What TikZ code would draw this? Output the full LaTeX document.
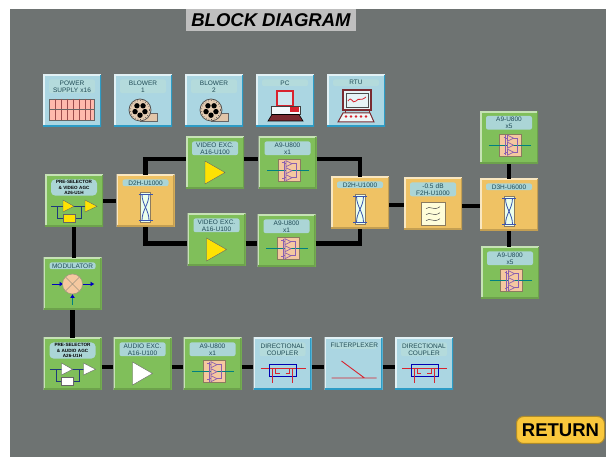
\documentclass[tikz,border=0pt]{standalone}
\usepackage{fontspec}
\setmainfont{Liberation Sans}
\usepackage{tikz}
\usetikzlibrary{arrows.meta}
\definecolor{screen}{HTML}{6E7372}
\definecolor{tagblue}{HTML}{B4DBDC}
\definecolor{tagteal}{HTML}{ABD5D6}
\definecolor{skyfill}{HTML}{ABD6E2}
\definecolor{leaffill}{HTML}{80BF5A}
\definecolor{sandfill}{HTML}{EFC264}
\definecolor{peach}{HTML}{F5C8A0}
\definecolor{tan}{HTML}{8B7B5F}
\definecolor{wire}{HTML}{1F3A7A}
\definecolor{crimson}{HTML}{D8232E}
\definecolor{maroon}{HTML}{7A2A30}
\definecolor{inktext}{HTML}{1F4A55}
\definecolor{gold}{HTML}{F9C73C}
\definecolor{skyedge}{HTML}{2D9CC6}
\definecolor{crossblue}{HTML}{3A55B0}
\definecolor{combviolet}{HTML}{8A5FB0}
\tikzset{bevel/.style 2 args={path picture={
    \draw [line width=3pt,#1] (path picture bounding box.south west) |- (path picture bounding box.north east);
    \draw [line width=3pt,#2] (path picture bounding box.south west) -| (path picture bounding box.north east);
  }}}
\tikzstyle{unit} = [rectangle, minimum width=58pt, minimum height=52pt, inner sep=0pt]
\tikzstyle{sky} = [unit, fill=skyfill, bevel={white!65!skyfill}{skyedge}]
\tikzstyle{leaf} = [unit, fill=leaffill, bevel={white!55!leaffill}{black!15!leaffill}]
\tikzstyle{sand} = [unit, fill=sandfill, bevel={white!60!sandfill}{black!18!sandfill}]
\tikzstyle{tag} = [rectangle, rounded corners=2pt, fill=tagteal, text=inktext, text width=46pt,
    text centered, inner xsep=0pt, inner ysep=1pt, anchor=north, font=\fontsize{6.5}{7}\selectfont]
\tikzstyle{palecap} = [tag, fill=tagblue]
\tikzstyle{tinycap} = [tag, rounded corners=4pt, text=black, font=\bfseries\fontsize{4.6}{5.4}\selectfont]
\tikzstyle{line} = [draw, line width=4.6pt]
\tikzstyle{thin wire} = [draw=wire, line width=0.8pt]
\tikzstyle{flat} = [draw=crimson, line width=0.9pt]
\tikzset{
  combiner/.pic={
    \draw [draw=tan, fill=peach, line width=0.7pt] (-11,-11) rectangle (11,11);
    \draw [draw=teal, line width=0.6pt] (-22,0) -- (20,0);
    \draw [draw=combviolet, line width=0.6pt] (-7,-8) -- (-5,-8) (-5,-10) -- (-5,10) (-5,8) -- (-7,8) (-5,-7) rectangle (7,7);
    \draw [draw=combviolet, fill=peach, line width=0.6pt] (-3,-10) -- (3,-7) -- (-3,-4) -- cycle;
    \draw [draw=combviolet, fill=peach, line width=0.6pt] (-3,-3) -- (3,0) -- (-3,3) -- cycle;
    \draw [draw=combviolet, fill=peach, line width=0.6pt] (-3,4) -- (3,7) -- (-3,10) -- cycle;
  },
  hybrid/.pic={
    \draw [draw=tan, fill=green!8!white, line width=0.8pt] (-5,-15) rectangle (5,15);
    \draw [draw=crossblue, line width=0.8pt] (-7,-13) -- (7,-13) (-7,13) -- (7,13);
    \draw [draw=crossblue, line width=0.8pt] (-3.5,-13) .. controls (-3.5,-3) and (3.5,3) .. (3.5,13);
    \draw [draw=crossblue, line width=0.8pt] (3.5,-13) .. controls (3.5,-3) and (-3.5,3) .. (-3.5,13);
  },
  ripple/.pic={
    \draw [draw=tan, fill=yellow!15!white, line width=0.8pt] (-12,-11.5) rectangle (12,11.5);
    \foreach \y in {-6,0,6} {
      \draw [black!70, line width=0.5pt] (-7,\y+1) .. controls (-3,\y-3) and (0,\y+4) .. (7,\y-1);
    }
  },
  blower/.pic={
    \draw [draw=black!60, fill=brown!45!white, line width=0.5pt] (0,3) rectangle (17,11);
    \draw [draw=black!70, fill=brown!40!white, line width=0.7pt] (0,0) circle (11);
    \draw [black!70, line width=0.6pt, dash pattern=on 0.8pt off 2pt] (0,0) circle (9.6);
    \foreach \a in {90,162,234,306,18} {
      \fill [black] (\a:5.2) circle (2.7);
    }
  },
  gridpanel/.pic={
    \draw [draw=black!60, fill=red!25!white!90!orange, line width=0.7pt] (-22.5,-2) rectangle (22.5,19);
    \foreach \x in {-16.5,-10.5,-4.5,1.5,7.5,13.5,18} {
      \draw [draw=red!45!black!70, line width=0.4pt] (\x,-2) -- (\x,19);
    }
    \draw [draw=black!60, line width=0.7pt] (-22.5,8.5) -- (22.5,8.5);
  },
  pcset/.pic={
    \draw [draw=crimson, fill=skyfill!60!white, line width=1.2pt] (-8,-10) rectangle (8,5);
    \draw [draw=black!75, fill=white!85!skyfill, line width=0.8pt] (-14,5) rectangle (15,13);
    \fill [crimson] (5,6.5) rectangle (14,11);
    \draw [draw=black, fill=maroon, line width=0.6pt] (-13,13.5) -- (14,13.5) -- (18,20) -- (-17,20) -- cycle;
  },
  rtuset/.pic={
    \draw [draw=maroon, fill=white!70!skyfill, line width=1.2pt] (-13,-11) rectangle (15,9);
    \draw [draw=black!70, line width=0.5pt] (-10,-8) rectangle (12,6);
    \draw [draw=crimson, line width=0.8pt] (-8,0) .. controls (-4,-6) and (-4,4) .. (0,0) .. controls (3,-4) and (4,1) .. (10,-4);
    \draw [draw=maroon, line width=0.8pt] (-11,9) -- (-11,12) (13,9) -- (13,12);
    \draw [draw=maroon, fill=white!80!skyfill, line width=1pt] (-13,12) -- (14,12) -- (18,21) -- (-18,21) -- cycle;
    \foreach \x in {-10,-5,0,5,10} {
      \fill [crimson] (\x,15.5) circle (1.4);
    }
  },
  presel/.pic={
    \path [thin wire] (-23,5.3) -- (11,5.3) (-16.5,5.3) -- (-16.5,17) -- (7,17) -- (7,5.3);
    \draw [draw=black!60, pic actions, line width=0.4pt] (-11,-1) -- (0,5.3) -- (-11,11) -- cycle;
    \draw [draw=black!60, pic actions, line width=0.4pt] (11,-1) -- (23,5.3) -- (11,11) -- cycle;
    \draw [draw=black!60, pic actions, line width=0.4pt] (-11,13) rectangle (1,21);
  },
  coupler/.pic={
    \path [flat] (-22,4) -- (23,4);
    \draw [draw=blue!70!black, line width=0.9pt] (-13,0) rectangle (14,12);
    \path [flat] (-10,4) -- (-10,19) (10,4) -- (10,19) (-7,4) -- (-7,9) -- (-3,9) (3,9) -- (7,9) -- (7,4);
  },
  plexer/.pic={
    \path [flat] (-22,14) -- (23,14) (-12,-3) -- (11,14);
  },
  mixer/.pic={
    \draw [draw=blue!75!black, line width=0.8pt, -{Latex[length=4pt,width=5pt]}] (-21,0) -- (-9,0);
    \draw [draw=blue!75!black, line width=0.8pt, -{Latex[length=4pt,width=5pt]}] (10,0) -- (22,0);
    \draw [draw=teal, line width=0.8pt, -{Latex[length=4pt,width=5pt,blue!75!black]}] (0,21) -- (0,10);
    \draw [draw=tan!80, fill=peach, line width=0.5pt] (0,0) circle (10);
    \draw [draw=tan!80, line width=0.5pt] (-7,-7) -- (7,7) (-7,7) -- (7,-7);
  },
}
\newcommand{\captag}[3][tag]{\node [#1] (#2cap) at ([yshift=-4.5pt]#2.north) {#3};}
\begin{document}
\begin{tikzpicture}[x=1pt, y=-1pt, node distance = 71pt]
   % Page and panel
    \useasboundingbox [fill=white] (0,0) rectangle (606,457);
    \fill [screen] (10,9) rectangle (606,457);
    \node [rectangle, fill=black!25, minimum width=170pt, minimum height=22pt, inner sep=0pt,
      font=\bfseries\itshape\fontsize{18.5}{19}\selectfont] (title) at (271,20) {BLOCK DIAGRAM};
   % Top row
    \node [sky] (power) at (72,101) {};
    \node [sky, right of=power] (blowa) {};
    \node [sky, right of=blowa] (blowb) {};
    \node [sky, right of=blowb] (pc) {};
    \node [sky, right of=pc] (rtu) {};
   % Video chain
    \node [leaf] (prev) at (74,201) {};
    \node [sand] (splitv) at (145.5,201) {};
    \node [leaf] (exca) at (215,163) {};
    \node [leaf] (ampa) at (287.5,163) {};
    \node [leaf] (excb) at (216.5,240) {};
    \node [leaf] (ampb) at (286.5,241) {};
    \node [sand] (joinv) at (360,203) {};
    \node [sand] (filt) at (433,204) {};
    \node [sand] (splitr) at (509,205) {};
    \node [leaf] (ampc) at (509,137.5) {};
    \node [leaf] (ampd) at (510,273) {};
    \node [leaf] (modul) at (72.5,284) {};
   % Audio chain
    \node [leaf] (prea) at (72.5,364) {};
    \node [leaf, right of=prea, node distance = 70pt] (exau) {};
    \node [leaf, right of=exau, node distance = 70pt] (ampe) {};
    \node [sky, right of=ampe, node distance = 70pt] (coupa) {};
    \node [sky, right of=coupa] (plex) {};
    \node [sky, right of=plex, node distance = 70.5pt] (coupb) {};
   % Return button
    \node [rectangle, rounded corners=7pt, fill=gold, draw=gold!70!black, line width=1pt,
      minimum width=88pt, minimum height=27pt, inner sep=0pt,
      font=\bfseries\fontsize{18.5}{19}\selectfont] (back) at (560.5,430) {RETURN};
   % Draw edges
    \path [line] (prev) -- (splitv);
    \path [line] (splitv.north) |- ([yshift=4pt]exca.west);
    \path [line] ([yshift=4pt]exca.east) -- ([yshift=4pt]ampa.west);
    \path [line] ([yshift=4pt]ampa.east) -| (joinv.north);
    \path [line] (splitv.south) |- ([yshift=-3.5pt]excb.west);
    \path [line] ([yshift=-3.5pt]excb.east) -- ([yshift=-2.5pt]ampb.west);
    \path [line] ([yshift=-2.5pt]ampb.east) -| (joinv.south);
    \path [line] ([yshift=-2pt]joinv.east) -- ([yshift=-1pt]filt.west);
    \path [line] ([yshift=-2pt]filt.east) -- ([yshift=-1pt]splitr.west);
    \path [line] (splitr) -- (ampc);
    \path [line] (splitr.south) -- (splitr.south |- ampd.north);
    \path [line] (prev.south) -- (prev.south |- modul.north);
    \path [line] (modul) -- (prea);
    \path [line] ([yshift=-3pt]prea.east) -- ([yshift=-3pt]exau.west);
    \path [line] ([yshift=-3pt]exau.east) -- ([yshift=-3pt]ampe.west);
    \path [line] ([yshift=-3pt]ampe.east) -- ([yshift=-3pt]coupa.west);
    \path [line] ([yshift=-3pt]coupa.east) -- ([yshift=-3pt]plex.west);
    \path [line] ([yshift=-3pt]plex.east) -- ([yshift=-3pt]coupb.west);
   % Captions
    \captag[palecap]{power}{POWER\\SUPPLY x16}
    \captag[palecap]{blowa}{BLOWER\\1}
    \captag[palecap]{blowb}{BLOWER\\2}
    \captag[palecap]{pc}{PC}
    \captag[palecap]{rtu}{RTU}
    \captag[tinycap]{prev}{PRE-SELECTOR\\\& VIDEO AGC\\A26-U1H}
    \captag{splitv}{D2H-U1000}
    \captag{exca}{VIDEO EXC.\\A16-U100}
    \captag{ampa}{A9-U800\\x1}
    \captag{excb}{VIDEO EXC.\\A16-U100}
    \captag{ampb}{A9-U800\\x1}
    \captag{joinv}{D2H-U1000}
    \captag{filt}{-0.5 dB\\F2H-U1000}
    \captag{splitr}{D3H-U6000}
    \captag{ampc}{A9-U800\\x5}
    \captag{ampd}{A9-U800\\x5}
    \captag{modul}{MODULATOR}
    \captag[tinycap]{prea}{PRE-SELECTOR\\\& AUDIO AGC\\A26-U1H}
    \captag{exau}{AUDIO EXC.\\A16-U100}
    \captag{ampe}{A9-U800\\x1}
    \captag[palecap]{coupa}{DIRECTIONAL\\COUPLER}
    \captag[palecap]{plex}{FILTERPLEXER}
    \captag[palecap]{coupb}{DIRECTIONAL\\COUPLER}
   % Icons
    \pic at (power) {gridpanel};
    \pic at ([shift={(-3pt,-9pt)}]blowa.center) {blower};
    \pic at ([shift={(-3pt,-9pt)}]blowb.center) {blower};
    \pic at (pc) {pcset};
    \pic at (rtu) {rtuset};
    \pic [fill=yellow!85!orange] at (prev) {presel};
    \pic [fill=white] at (prea) {presel};
    \pic at ([yshift=-6.3pt]splitv.center) {hybrid};
    \pic at ([yshift=-6.3pt]joinv.center) {hybrid};
    \pic at ([yshift=-6.3pt]splitr.center) {hybrid};
    \pic at ([yshift=-9.7pt]filt.center) {ripple};
    \pic at ([shift={(1.5pt,-7.7pt)}]ampa.center) {combiner};
    \pic at ([shift={(1.5pt,-7.7pt)}]ampb.center) {combiner};
    \pic at ([shift={(1.5pt,-7.7pt)}]ampc.center) {combiner};
    \pic at ([shift={(1.5pt,-7.7pt)}]ampd.center) {combiner};
    \pic at ([shift={(1.5pt,-7.7pt)}]ampe.center) {combiner};
    \draw [draw=black!60, fill=yellow!85!orange, line width=0.4pt] ([shift={(-10pt,2pt)}]exca.center) -- ([shift={(10pt,-9.5pt)}]exca.center) -- ([shift={(-10pt,-21pt)}]exca.center) -- cycle;
    \draw [draw=black!60, fill=yellow!85!orange, line width=0.4pt] ([shift={(-10pt,2pt)}]excb.center) -- ([shift={(10pt,-9.5pt)}]excb.center) -- ([shift={(-10pt,-21pt)}]excb.center) -- cycle;
    \draw [draw=black!60, fill=white, line width=0.4pt] ([shift={(-10pt,2pt)}]exau.center) -- ([shift={(10pt,-9.5pt)}]exau.center) -- ([shift={(-10pt,-21pt)}]exau.center) -- cycle;
    \pic at (coupa) {coupler};
    \pic at (coupb) {coupler};
    \pic at (plex) {plexer};
    \pic at (modul) {mixer};
\end{tikzpicture}
\end{document}
